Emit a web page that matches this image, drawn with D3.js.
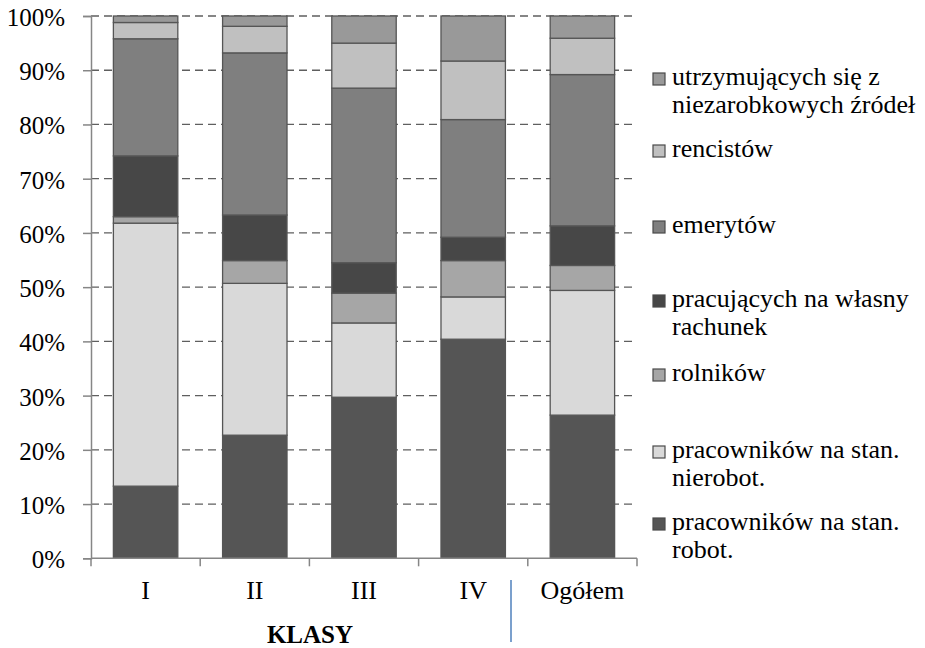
<!DOCTYPE html>
<html><head><meta charset="utf-8">
<script src="https://cdn.jsdelivr.net/npm/d3@7/dist/d3.min.js"></script>
<style>body{margin:0;background:#fff} svg{display:block} svg text{font-family:'Liberation Serif','Times New Roman',Times,Tinos,'DejaVu Serif','Noto Serif',serif !important}</style>
</head><body><svg id="c" width="925" height="648"></svg>
<script>
const categories = ["I", "II", "III", "IV", "Ogółem"];
const seriesKeys = ["robot", "nierobot", "rolnikow", "wlasny", "emerytow", "rencistow", "utrzym"];
const robot     = [13.3, 22.7, 29.7, 40.4, 26.4];
const nierobot  = [48.5, 28.0, 13.7, 7.8, 23.0];
const rolnikow  = [1.2, 4.2, 5.5, 6.7, 4.6];
const wlasny    = [11.2, 8.4, 5.6, 4.3, 7.3];
const emerytow  = [21.6, 29.9, 32.2, 21.7, 27.9];
const rencistow = [3.0, 4.9, 8.3, 10.8, 6.7];
const utrzym    = [1.2, 1.9, 5.0, 8.3, 4.1];
const seriesLabels = {
  robot: ["pracowników na stan.", "robot."],
  nierobot: ["pracowników na stan.", "nierobot."],
  rolnikow: ["rolników"],
  wlasny: ["pracujących na własny", "rachunek"],
  emerytow: ["emerytów"],
  rencistow: ["rencistów"],
  utrzym: ["utrzymujących się z", "niezarobkowych źródeł"]
};
const yTicks = [0, 10, 20, 30, 40, 50, 60, 70, 80, 90, 100];
const axisTitle = "KLASY";

const colors = {robot:"#555555", nierobot:"#d9d9d9", rolnikow:"#a6a6a6", wlasny:"#474747", emerytow:"#7f7f7f", rencistow:"#c0c0c0", utrzym:"#999999"};
const seriesData = {robot, nierobot, rolnikow, wlasny, emerytow, rencistow, utrzym};
const table = categories.map((c, i) => {
  const o = {cat: c};
  seriesKeys.forEach(k => o[k] = seriesData[k][i]);
  return o;
});

const svg = d3.select("#c");
const pLeft = 91, pRight = 637, pTop = 16, pBottom = 558.3;
const x = d3.scaleBand().domain(categories).range([pLeft, pRight]).paddingInner(0.41).paddingOuter(0.205);
const y = d3.scaleLinear().domain([0, 1]).range([pBottom, pTop]);

// gridlines
svg.append("g").selectAll("line").data(yTicks.filter(t => t > 0)).join("line")
  .attr("x1", pLeft).attr("x2", pRight)
  .attr("y1", d => y(d / 100)).attr("y2", d => y(d / 100))
  .attr("stroke", "#5f5f5f").attr("stroke-width", 1.3).attr("stroke-dasharray", "8,5");

// bars
const stack = d3.stack().keys(seriesKeys).offset(d3.stackOffsetExpand);
const layers = stack(table);
svg.append("g").selectAll("g").data(layers).join("g")
  .attr("fill", d => colors[d.key])
  .selectAll("rect").data(d => d).join("rect")
  .attr("x", d => x(d.data.cat)).attr("width", x.bandwidth())
  .attr("y", d => y(d[1])).attr("height", d => y(d[0]) - y(d[1]))
  .attr("stroke", "#555").attr("stroke-width", 1.3);

// y axis
const yAxis = d3.axisLeft(y).tickValues(yTicks.map(t => t / 100)).tickFormat(d => Math.round(d * 100) + "%").tickSize(8).tickPadding(18);
const ya = svg.append("g").attr("transform", `translate(${pLeft},0)`).call(yAxis);
ya.attr("font-family", null);
ya.select(".domain").attr("stroke", "#868686").attr("stroke-width", 1.5);
ya.selectAll(".tick line").attr("stroke", "#868686").attr("stroke-width", 1.5);
ya.selectAll(".tick text").attr("font-size", 25).attr("fill", "#000").attr("dy", "0.38em");

// x axis
svg.append("line").attr("x1", pLeft).attr("x2", pRight).attr("y1", pBottom).attr("y2", pBottom).attr("stroke", "#868686").attr("stroke-width", 1.5);
const bounds = categories.map(c => x(c) - x.step() * x.paddingInner() / 2).concat([pRight]);
bounds[0] = pLeft;
svg.append("g").selectAll("line").data(bounds).join("line")
  .attr("x1", d => d).attr("x2", d => d).attr("y1", pBottom).attr("y2", pBottom + 8)
  .attr("stroke", "#868686").attr("stroke-width", 1.5);
svg.append("g").selectAll("text").data(categories).join("text")
  .attr("x", d => x(d) + x.bandwidth() / 2).attr("y", 599)
  .attr("text-anchor", "middle").attr("font-size", 26).attr("fill", "#000").text(d => d);
svg.append("text").attr("x", 310).attr("y", 643).attr("text-anchor", "middle")
  .attr("font-size", 25).attr("font-weight", "bold").attr("fill", "#000").text(axisTitle);

// blue line
svg.append("line").attr("x1", 511).attr("x2", 511).attr("y1", 580).attr("y2", 642)
  .attr("stroke", "#4f81bd").attr("stroke-width", 1.5);

// legend
const legendOrder = seriesKeys.slice().reverse();
const legendBase = [85, 157, 233, 307, 381, 458, 530];
const lg = svg.append("g");
legendOrder.forEach((k, i) => {
  const b = legendBase[i];
  lg.append("rect").attr("x", 653).attr("y", b - 12).attr("width", 12).attr("height", 12)
    .attr("fill", colors[k]).attr("stroke", "#4a4a4a").attr("stroke-width", 1.2);
  const t = lg.append("text").attr("x", 672).attr("y", b).attr("font-size", 26).attr("fill", "#000");
  seriesLabels[k].forEach((line, j) => {
    t.append("tspan").attr("x", 672).attr("dy", j === 0 ? 0 : 28).text(line);
  });
});
</script></body></html>
